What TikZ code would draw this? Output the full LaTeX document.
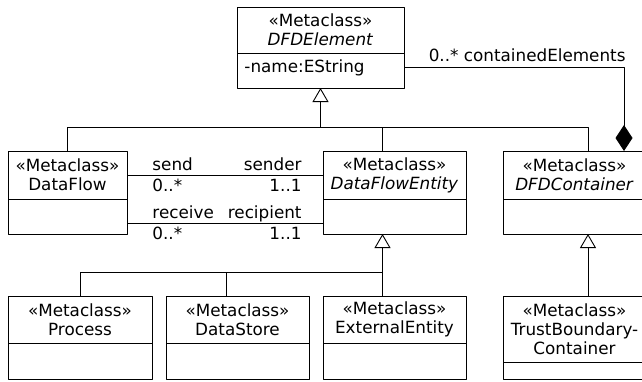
\documentclass[tikz,border=0pt]{standalone}
\usepackage{fontspec}
\setmainfont{DejaVu Sans}
\usetikzlibrary{positioning,arrows.meta}
\begin{document}
\begin{tikzpicture}[x=1pt, y=-1pt, font=\fontsize{16.8}{18.8}\selectfont, line join=round, line width=.9pt,
	head/.style={draw, line width=1pt, outer sep=0pt, inner sep=0pt, align=center, minimum width=143, minimum height=#1},
	body/.style={draw, line width=1pt, outer sep=0pt, inner sep=0pt, minimum width=143, minimum height=#1},
	role/.style={inner sep=0pt},
	inh/.style={-{Triangle[open, length=14pt, width=16pt, fill=white]}},
	comp/.style={-{Diamond[length=26pt, width=17pt]}}]
	\useasboundingbox (0,0) rectangle (642,381);
	\node[head=46, minimum width=167, anchor=north west] (elem) at (237,7) {«Metaclass»\\\textit{DFDElement}};
	\node[body=35, minimum width=167, below=0pt of elem] (elemb) {};
	\node[role, below right=6.5pt and 7pt of elemb.north west] (elemattr) {-name:EString};
	\node[head=48, minimum width=119, anchor=north west] (df) at (8,151) {«Metaclass»\\DataFlow};
	\node[body=35, minimum width=119, below=0pt of df] (dfb) {};
	\node[head=48, anchor=north west] (dfe) at (323,151) {«Metaclass»\\\textit{DataFlowEntity}};
	\node[body=35, below=0pt of dfe] (dfeb) {};
	\node[head=48, anchor=north west] (dfc) at (503,151) {«Metaclass»\\\textit{DFDContainer}};
	\node[body=35, below=0pt of dfc] (dfcb) {};
	\node[head=47, minimum width=144, anchor=north west] (proc) at (8,296) {«Metaclass»\\Process};
	\node[body=36, minimum width=144, below=0pt of proc] (procb) {};
	\node[head=47, anchor=north west] (store) at (166,296) {«Metaclass»\\DataStore};
	\node[body=36, below=0pt of store] (storeb) {};
	\node[head=47, anchor=north west] (ext) at (323,296) {«Metaclass»\\ExternalEntity};
	\node[body=36, below=0pt of ext] (extb) {};
	\node[head=66, anchor=north west] (tbc) at (503,296) {«Metaclass»\\TrustBoundary-\\Container};
	\node[body=17, below=0pt of tbc] (tbcb) {};
	% generalizations
	\coordinate (gen1) at (elemb.south |- 0,127);
	\draw[inh] (gen1) -- (elemb.south);
	\draw (df.north) |- (gen1);
	\draw ([xshift=-12]dfe.north) |- (gen1);
	\draw ([xshift=13.5]dfc.north) |- (gen1);
	\coordinate (gen2) at (382.5,272);
	\draw[inh] (gen2) -- (gen2 |- dfeb.south);
	\draw (proc.north) |- (gen2);
	\draw ([xshift=-11.5]store.north) |- (gen2);
	\draw (ext.north -| gen2) -- (gen2);
	\draw[inh] ([xshift=13.5]tbc.north) -- ([xshift=13.5]dfcb.south);
	% associations
	\draw[comp] ([yshift=3.5]elemb.east) -| ([xshift=49.5]dfc.north)
		node[role, pos=.5, anchor=base east, xshift=2, yshift=6]{0..* containedElements};
	\draw (df.east) -- (df.east -| dfe.west)
		node[role, pos=0, anchor=base west, xshift=25, yshift=5]{send}
		node[role, pos=0, anchor=base west, xshift=25, yshift=-16]{0..*}
		node[role, pos=1, anchor=base east, xshift=-21, yshift=5]{sender}
		node[role, pos=1, anchor=base east, xshift=-21, yshift=-16]{1..1};
	\coordinate (recv) at ([yshift=-6.5]dfb.east);
	\draw (recv) -- (recv -| dfeb.west)
		node[role, pos=0, anchor=base west, xshift=25, yshift=5]{receive}
		node[role, pos=0, anchor=base west, xshift=25, yshift=-16]{0..*}
		node[role, pos=1, anchor=base east, xshift=-21, yshift=5]{recipient}
		node[role, pos=1, anchor=base east, xshift=-21, yshift=-16]{1..1};
\end{tikzpicture}
\end{document}
